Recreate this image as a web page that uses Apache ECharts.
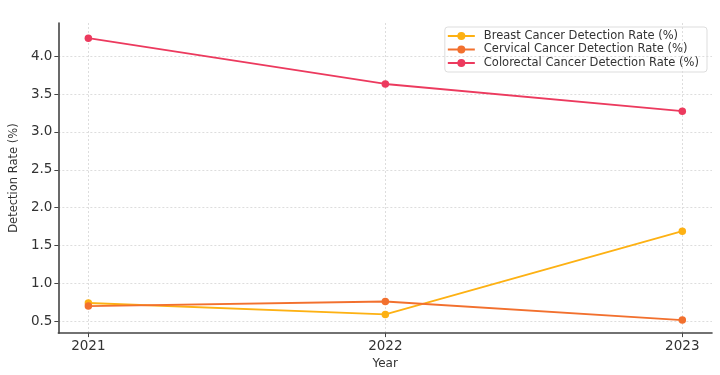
<!DOCTYPE html>
<html><head><meta charset="utf-8">
<script src="https://cdn.jsdelivr.net/npm/echarts@6/dist/echarts.min.js"></script>
<style>html,body{margin:0;padding:0;background:#fff}#c{width:720px;height:375px}</style>
</head><body><div id="c"></div>
<script>
const years = [2021, 2022, 2023];
const breast = [0.74, 0.59, 1.69];
const cervical = [0.70, 0.76, 0.515];
const colorectal = [4.24, 3.635, 3.275];
const yTicks = [0.5, 1.0, 1.5, 2.0, 2.5, 3.0, 3.5, 4.0];
const seriesNames = ['Breast Cancer Detection Rate (%)', 'Cervical Cancer Detection Rate (%)', 'Colorectal Cancer Detection Rate (%)'];
const colors = ['#FDB113', '#F2702E', '#EC3A5E'];
const font = 'DejaVu Sans';
const chart = echarts.init(document.getElementById('c'));
function mk(name, vals, color) {
  return {
    name: name, type: 'line', data: years.map((y, i) => [y, vals[i]]),
    symbol: 'circle', symbolSize: 7.5, color: color,
    lineStyle: {width: 1.9, color: color}, itemStyle: {color: color},
    emphasis: {disabled: true}
  };
}
chart.setOption({
  animation: false,
  backgroundColor: '#fff',
  grid: {left: 53, right: 8, top: 23, bottom: 38, containLabel: false},
  legend: {
    right: 13, top: 27, orient: 'vertical', itemGap: 1.5,
    itemWidth: 27, itemHeight: 8, padding: [3, 8, 3, 3],
    borderColor: '#ddd', borderWidth: 1, borderRadius: 3,
    textStyle: {fontFamily: font, fontSize: 11.5, color: '#333', padding: [0, 0, 0, 4]},
    data: seriesNames.map(n => ({name: n, icon: 'path://M0,3.1 L27,3.1 L27,4.9 L0,4.9 Z M9.5,4 a4,4 0 1,1 8,0 a4,4 0 1,1 -8,0 Z'}))
  },
  xAxis: {
    type: 'value', min: 2020.899, max: 2023.1,
    name: 'Year', nameLocation: 'middle', nameGap: 21,
    nameTextStyle: {fontFamily: font, fontSize: 12, color: '#333'},
    axisLine: {show: true, onZero: false, lineStyle: {color: '#444', width: 1.6}},
    axisTick: {show: true, customValues: years, length: 4, lineStyle: {color: '#444'}},
    axisLabel: {customValues: years, fontFamily: font, fontSize: 13.5, color: '#333', margin: 6, formatter: v => String(Math.round(v))},
    splitLine: {show: true, lineStyle: {color: '#ddd', type: [2, 2]}}
  },
  yAxis: {
    type: 'value', min: 0.343, max: 4.44,
    name: 'Detection Rate (%)', nameLocation: 'middle', nameGap: 37,
    nameTextStyle: {fontFamily: font, fontSize: 11.5, color: '#333'},
    axisLine: {show: true, lineStyle: {color: '#444', width: 1.6}},
    axisTick: {show: true, customValues: yTicks, length: 4, lineStyle: {color: '#444'}},
    axisLabel: {customValues: yTicks, fontFamily: font, fontSize: 13.5, color: '#333', margin: 6, formatter: v => v.toFixed(1)},
    splitLine: {show: true, lineStyle: {color: '#ddd', type: [2, 2]}}
  },
  series: [mk(seriesNames[0], breast, colors[0]), mk(seriesNames[1], cervical, colors[1]), mk(seriesNames[2], colorectal, colors[2])]
});
</script></body></html>
